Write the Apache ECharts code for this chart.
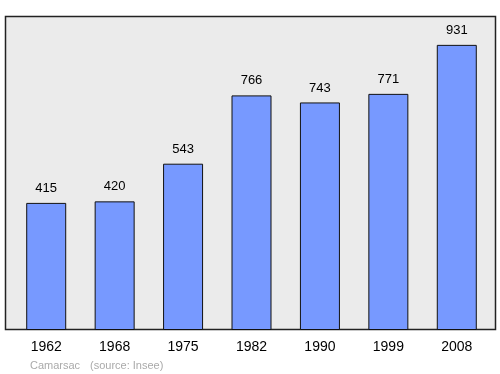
<!DOCTYPE html>
<html>
<head>
<meta charset="utf-8">
<script src="https://cdn.jsdelivr.net/npm/echarts@6/dist/echarts.min.js"></script>
<style>
  html, body { margin: 0; padding: 0; background: #fff; }
  #chart { width: 500px; height: 374px; }
</style>
</head>
<body>
<div id="chart"></div>
<script>
var years = ['1962', '1968', '1975', '1982', '1990', '1999', '2008'];
var population = [415, 420, 543, 766, 743, 771, 931];
var commune = 'Camarsac';
var source = '(source: Insee)';

var chart = echarts.init(document.getElementById('chart'));
chart.setOption({
  animation: false,
  backgroundColor: '#fff',
  graphic: [{
    type: 'rect',
    z: -10,
    shape: { x: 5.5, y: 16.5, width: 490, height: 313 },
    style: { fill: '#ebebeb', stroke: '#222', lineWidth: 1.5 }
  }, {
    type: 'text',
    left: 30,
    top: 360,
    style: { text: commune, fill: '#aaa', font: '11px "Liberation Sans", Arial, sans-serif' }
  }, {
    type: 'text',
    left: 90,
    top: 360,
    style: { text: source, fill: '#aaa', font: '11px "Liberation Sans", Arial, sans-serif' }
  }],
  grid: { left: 12, right: 9, top: 17, bottom: 44 },
  xAxis: {
    type: 'category',
    data: years,
    axisLine: { show: false },
    axisTick: { show: false },
    axisLabel: {
      color: '#000',
      fontSize: 14,
      margin: 10,
      fontFamily: 'Liberation Sans, Arial, sans-serif'
    }
  },
  yAxis: {
    type: 'value',
    min: 0,
    max: 1022,
    show: false,
    splitLine: { show: false }
  },
  series: [{
    type: 'bar',
    data: population,
    barWidth: 40,
    itemStyle: { color: '#7799ff', borderColor: '#111', borderWidth: 1 },
    label: {
      show: true,
      position: 'top',
      distance: 8,
      color: '#000',
      fontSize: 13,
      fontFamily: 'Liberation Sans, Arial, sans-serif'
    }
  }]
});
</script>
</body>
</html>
